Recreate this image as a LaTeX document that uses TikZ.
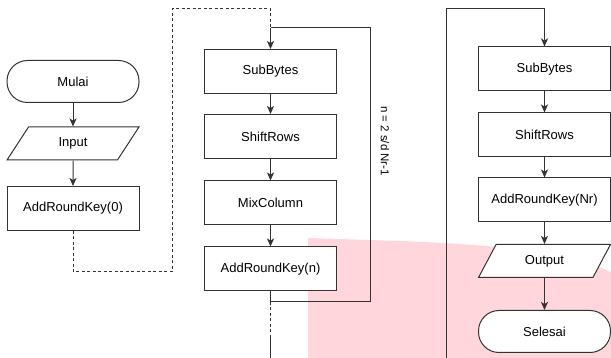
\documentclass[tikz,border=0pt]{standalone}
\usepackage{fontspec}
\setmainfont{Liberation Sans}
\usetikzlibrary{arrows.meta,shapes.geometric}
\definecolor{ln}{HTML}{333333}
\definecolor{pinkbg}{HTML}{FFD6DB}
\begin{document}
\begin{tikzpicture}[x=1pt,y=-1pt, font=\fontsize{13}{15}\selectfont,
 box/.style={draw=ln, line width=1pt, fill=white, minimum width=132pt, minimum height=44pt, inner sep=0pt},
 term/.style={box, rounded corners=20.5pt, minimum height=42pt},
 io/.style={draw=ln, line width=1pt, fill=white, trapezium, trapezium left angle=59, trapezium right angle=121, trapezium stretches=true, minimum width=132pt, minimum height=33pt, inner sep=0pt},
 conn/.style={draw=ln, line width=1pt},
 arr/.style={conn, -{Stealth[length=8pt,width=7pt,inset=2pt]}},
 dsh/.style={conn, dash pattern=on 3pt off 2.5pt}]
\useasboundingbox (0,0) rectangle (611,358);
\fill[pinkbg] (308,238) -- (400,241) .. controls (480,244) and (565,250) .. (611,272) -- (611,358) -- (308,358) -- cycle;

% left column
\node[term] (mulai) at (73,81.5) {Mulai};
\node[io] (input) at (73,143.5) {Input};
\node[box] (ark0) at (73,208.5) {AddRoundKey(0)};
% middle column
\node[box] (sb1) at (270.5,71.5) {SubBytes};
\node[box] (sr1) at (270.5,136.5) {ShiftRows};
\node[box] (mc) at (270.5,203) {MixColumn};
\node[box] (arkn) at (270.5,269) {AddRoundKey(n)};
% right column
\node[box] (sb2) at (544.5,69) {SubBytes};
\node[box] (sr2) at (544.5,135) {ShiftRows};
\node[box] (arknr) at (544.5,200) {AddRoundKey(Nr)};
\node[io] (output) at (544.5,261) {Output};
\node[term] (selesai) at (544.5,331.5) {Selesai};

\node[rotate=-90, font=\fontsize{11.5}{13}\selectfont] (lbl) at (385,141) {n = 2 s/d Nr-1};

\coordinate (d1) at (73,272);
\coordinate (d2) at (172,272);
\coordinate (d3) at (172,9);
\coordinate (d4) at (270.5,9);
\coordinate (j1) at (270.5,28);
\coordinate (lr) at (370,28);
\coordinate (lb) at (370,302);
\coordinate (j2) at (270.5,302);
\coordinate (e1) at (270.5,333);
\coordinate (e1b) at (270.5,335);
\coordinate (e2) at (270.5,360);
\coordinate (r0) at (446,360);
\coordinate (r1) at (446,9);
\coordinate (r2) at (544.5,9);

\draw[arr] (mulai) -- (input);
\draw[arr] (input) -- (ark0);
\draw[dsh] (ark0.south) -- (d1) -- (d2) -- (d3) -- (d4) -- (j1);
\draw[arr] (j1) -- (sb1);
\draw[arr] (sb1) -- (sr1);
\draw[arr] (sr1) -- (mc);
\draw[arr] (mc) -- (arkn);
\draw[conn] (arkn.south) -- (j2) -- (lb) -- (lr) -- (j1);
\draw[dsh] (j2) -- (e1);
\draw[conn] (e1b) -- (e2);

\draw[arr] (r0) -- (r1) -- (r2) -- (sb2);
\draw[arr] (sb2) -- (sr2);
\draw[arr] (sr2) -- (arknr);
\draw[arr] (arknr) -- (output);
\draw[arr] (output) -- (selesai);
\end{tikzpicture}
\end{document}
